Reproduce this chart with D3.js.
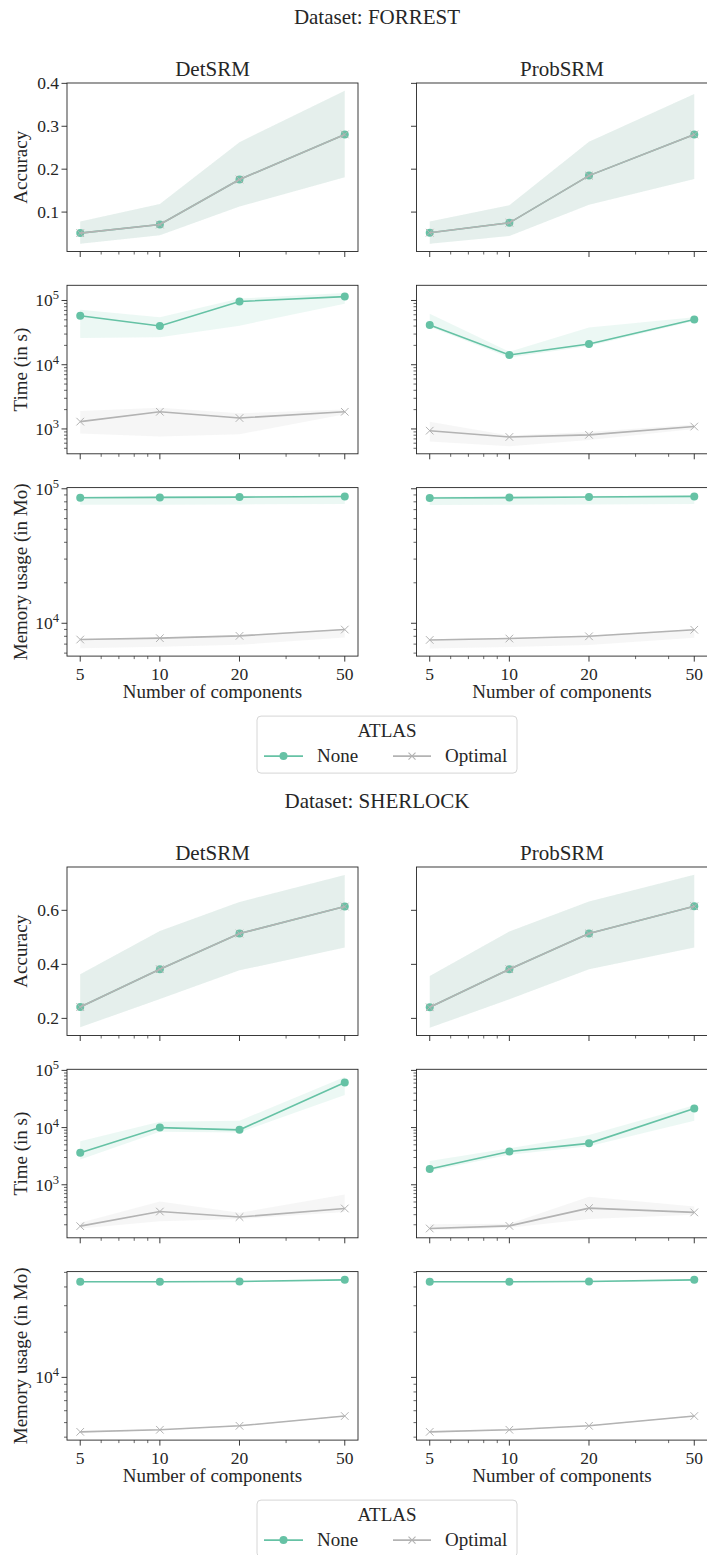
<!DOCTYPE html>
<html>
<head>
<meta charset="utf-8">
<script src="https://cdn.jsdelivr.net/npm/d3@7"></script>
<style>
  body { margin: 0; background: #fff; }
  svg text { font-family: "Liberation Serif", "DejaVu Serif", serif; fill: #262626; }
</style>
</head>
<body>
<svg id="chart"></svg>
<script>
// Two datasets x (accuracy, time, memory) x (DetSRM, ProbSRM), hue = ATLAS
// each row of a series: [mean, lower, upper] at components 5, 10, 20, 50

const components = [5, 10, 20, 50];
const minorComponents = [6, 7, 8, 9, 30, 40];
const methods = ['DetSRM', 'ProbSRM'];
const atlases = ['None', 'Optimal'];

// ── FORREST ──────────────────────────────────────────────────────────────
const forrestAccDetNone    = [[0.051, 0.026, 0.078], [0.071, 0.046, 0.119], [0.176, 0.113, 0.263], [0.281, 0.181, 0.383]];
const forrestAccDetOpt     = [[0.051, 0.026, 0.078], [0.071, 0.046, 0.119], [0.176, 0.113, 0.263], [0.281, 0.181, 0.383]];
const forrestAccProbNone   = [[0.052, 0.026, 0.078], [0.075, 0.044, 0.116], [0.185, 0.117, 0.264], [0.281, 0.177, 0.375]];
const forrestAccProbOpt    = [[0.052, 0.026, 0.078], [0.075, 0.044, 0.116], [0.185, 0.117, 0.264], [0.281, 0.177, 0.375]];

const forrestTimeDetNone   = [[58000, 26000, 71800], [40000, 26700, 55000], [96600, 40600, 107000], [115000, 89000, 131000]];
const forrestTimeDetOpt    = [[1300, 850, 1900], [1850, 760, 2140], [1480, 830, 1750], [1850, 1700, 2000]];
const forrestTimeProbNone  = [[41400, 39000, 62000], [14200, 13000, 15900], [21000, 19500, 38000], [50700, 48000, 55000]];
const forrestTimeProbOpt   = [[940, 640, 1300], [750, 540, 790], [810, 670, 900], [1090, 1000, 1170]];

const forrestMemDetNone    = [[85800, 76000, 87500], [86300, 76200, 88000], [86700, 76500, 88400], [87700, 77000, 89500]];
const forrestMemDetOpt     = [[7570, 6530, 7650], [7750, 6680, 7830], [8060, 6920, 8150], [8980, 7830, 9080]];
const forrestMemProbNone   = [[85500, 75800, 87300], [86000, 76000, 87800], [86800, 76500, 88500], [87800, 77200, 89500]];
const forrestMemProbOpt    = [[7520, 6500, 7600], [7700, 6650, 7800], [8000, 6900, 8100], [8950, 7800, 9050]];

// ── SHERLOCK ─────────────────────────────────────────────────────────────
const sherlockAccDetNone   = [[0.242, 0.167, 0.363], [0.382, 0.272, 0.523], [0.514, 0.378, 0.631], [0.614, 0.462, 0.731]];
const sherlockAccDetOpt    = [[0.242, 0.167, 0.363], [0.382, 0.272, 0.523], [0.514, 0.378, 0.631], [0.614, 0.462, 0.731]];
const sherlockAccProbNone  = [[0.241, 0.165, 0.357], [0.382, 0.271, 0.522], [0.514, 0.382, 0.633], [0.615, 0.462, 0.732]];
const sherlockAccProbOpt   = [[0.241, 0.165, 0.357], [0.382, 0.271, 0.522], [0.514, 0.382, 0.633], [0.615, 0.462, 0.732]];

const sherlockTimeDetNone  = [[3620, 2770, 5750], [10000, 8500, 12700], [9130, 8200, 13200], [61400, 37300, 76800]];
const sherlockTimeDetOpt   = [[189, 172, 216], [340, 230, 510], [273, 252, 323], [385, 335, 676]];
const sherlockTimeProbNone = [[1890, 1740, 2600], [3810, 3340, 4350], [5300, 4700, 7400], [21600, 13200, 24500]];
const sherlockTimeProbOpt  = [[172, 161, 204], [191, 177, 209], [391, 251, 620], [329, 300, 416]];

const sherlockMemDetNone   = [[43300, 42900, 43700], [43300, 42900, 43700], [43500, 43100, 43900], [44600, 44200, 45000]];
const sherlockMemDetOpt    = [[4340, 4300, 4380], [4480, 4440, 4520], [4760, 4720, 4800], [5530, 5480, 5580]];
const sherlockMemProbNone  = [[43300, 42900, 43700], [43300, 42900, 43700], [43500, 43100, 43900], [44600, 44200, 45000]];
const sherlockMemProbOpt   = [[4340, 4300, 4380], [4480, 4440, 4520], [4760, 4720, 4800], [5530, 5480, 5580]];

const forrestAccTicks = [0.1, 0.2, 0.3, 0.4];
const sherlockAccTicks = [0.2, 0.4, 0.6];

// ── Layout ───────────────────────────────────────────────────────────────
const W = 707, H = 1555;
const COL_X = [67, 416.5];
const PANEL_W = 291, PANEL_H = 168.5, ROW_STEP = 202.3;
const INK = '#262626';
const COLOR = { None: '#66c2a5', Optimal: '#b3b3b3' };
const TICK_FS = 17.5, LABEL_FS = 19, TITLE_FS = 21;

const blocks = [
    {
        name: 'FORREST', top: 83,
        rows: [
            { label: 'Accuracy', log: false, ticks: forrestAccTicks,
              DetSRM: { None: forrestAccDetNone, Optimal: forrestAccDetOpt },
              ProbSRM: { None: forrestAccProbNone, Optimal: forrestAccProbOpt } },
            { label: 'Time (in s)', log: true,
              DetSRM: { None: forrestTimeDetNone, Optimal: forrestTimeDetOpt },
              ProbSRM: { None: forrestTimeProbNone, Optimal: forrestTimeProbOpt } },
            { label: 'Memory usage (in Mo)', log: true,
              DetSRM: { None: forrestMemDetNone, Optimal: forrestMemDetOpt },
              ProbSRM: { None: forrestMemProbNone, Optimal: forrestMemProbOpt } },
        ],
    },
    {
        name: 'SHERLOCK', top: 867,
        rows: [
            { label: 'Accuracy', log: false, ticks: sherlockAccTicks,
              DetSRM: { None: sherlockAccDetNone, Optimal: sherlockAccDetOpt },
              ProbSRM: { None: sherlockAccProbNone, Optimal: sherlockAccProbOpt } },
            { label: 'Time (in s)', log: true,
              DetSRM: { None: sherlockTimeDetNone, Optimal: sherlockTimeDetOpt },
              ProbSRM: { None: sherlockTimeProbNone, Optimal: sherlockTimeProbOpt } },
            { label: 'Memory usage (in Mo)', log: true,
              DetSRM: { None: sherlockMemDetNone, Optimal: sherlockMemDetOpt },
              ProbSRM: { None: sherlockMemProbNone, Optimal: sherlockMemProbOpt } },
        ],
    },
];

const svg = d3.select('#chart').attr('width', W).attr('height', H);

// matplotlib-like 5% margins (in log space for log axes)
function yDomain(row) {
    const vals = [];
    methods.forEach(m => atlases.forEach(a => row[m][a].forEach(r => vals.push(r[1], r[2]))));
    const f = row.log ? Math.log10 : v => v;
    const lo = f(d3.min(vals)), hi = f(d3.max(vals));
    const pad = (hi - lo) * 0.05;
    return row.log ? [10 ** (lo - pad), 10 ** (hi + pad)] : [lo - pad, hi + pad];
}

const xExt = [Math.log10(5) - 0.05, Math.log10(50) + 0.05];

function drawPanel(x0, y0, row, method, showYLabels, showXLabels) {
    const g = svg.append('g');
    const x = d3.scaleLog().domain(xExt.map(v => 10 ** v)).range([x0, x0 + PANEL_W]);
    const dom = yDomain(row);
    const y = (row.log ? d3.scaleLog() : d3.scaleLinear()).domain(dom).range([y0 + PANEL_H, y0]);

    // series
    const area = d3.area().x(d => x(d.c)).y0(d => y(d.lo)).y1(d => y(d.hi));
    const line = d3.line().x(d => x(d.c)).y(d => y(d.v));
    atlases.forEach(a => {
        const pts = row[method][a].map((r, i) => ({ c: components[i], v: r[0], lo: r[1], hi: r[2] }));
        const col = COLOR[a];
        g.append('path').datum(pts).attr('d', line)
            .attr('fill', 'none').attr('stroke', col).attr('stroke-width', 1.6);
        if (a === 'None') {
            g.selectAll(null).data(pts).join('circle')
                .attr('cx', d => x(d.c)).attr('cy', d => y(d.v)).attr('r', 4)
                .attr('fill', col);
        } else {
            const s = 3.8;
            g.selectAll(null).data(pts).join('path')
                .attr('d', d => {
                    const cx = x(d.c), cy = y(d.v);
                    return `M${cx - s},${cy - s}L${cx + s},${cy + s}M${cx - s},${cy + s}L${cx + s},${cy - s}`;
                })
                .attr('stroke', col).attr('stroke-width', 1).attr('fill', 'none');
        }
        g.append('path').datum(pts).attr('d', area)
            .attr('fill', col).attr('fill-opacity', 0.12);
    });

    // frame
    g.append('rect').attr('x', x0).attr('y', y0).attr('width', PANEL_W).attr('height', PANEL_H)
        .attr('fill', 'none').attr('stroke', INK).attr('stroke-width', 0.9);

    // x ticks
    const xb = y0 + PANEL_H;
    g.selectAll(null).data(components).join('line')
        .attr('x1', d => x(d)).attr('x2', d => x(d)).attr('y1', xb).attr('y2', xb + 5.5)
        .attr('stroke', INK).attr('stroke-width', 0.9);
    g.selectAll(null).data(minorComponents).join('line')
        .attr('x1', d => x(d)).attr('x2', d => x(d)).attr('y1', xb).attr('y2', xb + 3)
        .attr('stroke', INK).attr('stroke-width', 0.7);
    if (showXLabels) {
        g.selectAll(null).data(components).join('text')
            .attr('x', d => x(d)).attr('y', xb + 24)
            .attr('text-anchor', 'middle')
            .attr('font-size', TICK_FS).text(d => d);
        g.append('text').attr('x', x0 + PANEL_W / 2).attr('y', xb + 42)
            .attr('text-anchor', 'middle').attr('font-size', LABEL_FS)
            .text('Number of components');
    }

    // y ticks
    let major, minor = [];
    if (row.log) {
        const e0 = Math.floor(Math.log10(dom[0])), e1 = Math.ceil(Math.log10(dom[1]));
        major = d3.range(e0, e1 + 1).map(e => 10 ** e).filter(v => v >= dom[0] && v <= dom[1]);
        d3.range(e0, e1 + 1).forEach(e => {
            for (let k = 2; k <= 9; k++) {
                const v = k * 10 ** e;
                if (v >= dom[0] && v <= dom[1]) minor.push(v);
            }
        });
    } else {
        major = row.ticks;
    }
    g.selectAll(null).data(major).join('line')
        .attr('x1', x0 - 5.5).attr('x2', x0).attr('y1', d => y(d)).attr('y2', d => y(d))
        .attr('stroke', INK).attr('stroke-width', 0.9);
    g.selectAll(null).data(minor).join('line')
        .attr('x1', x0 - 3).attr('x2', x0).attr('y1', d => y(d)).attr('y2', d => y(d))
        .attr('stroke', INK).attr('stroke-width', 0.7);

    if (showYLabels) {
        const lbl = g.selectAll(null).data(major).join('text')
            .attr('x', x0 - 8).attr('y', d => y(d) + 6)
            .attr('text-anchor', 'end')
            .attr('font-size', TICK_FS);
        if (row.log) {
            lbl.each(function(d) {
                const t = d3.select(this);
                t.append('tspan').text('10');
                t.append('tspan').attr('dy', -7).attr('font-size', 12.5)
                    .text(Math.round(Math.log10(d)));
            });
        } else {
            lbl.text(d => d.toFixed(1));
        }
        g.append('text')
            .attr('transform', `translate(27, ${y0 + PANEL_H / 2}) rotate(-90)`)
            .attr('text-anchor', 'middle')
            .attr('font-size', LABEL_FS).text(row.label);
    }
}

function drawLegend(top) {
    const g = svg.append('g');
    g.append('rect').attr('x', 257).attr('y', top).attr('width', 260).attr('height', 57)
        .attr('rx', 4).attr('fill', '#fff').attr('stroke', '#d6d6d6').attr('stroke-width', 1);
    g.append('text').attr('x', 387).attr('y', top + 21)
        .attr('text-anchor', 'middle').attr('font-size', LABEL_FS).text('ATLAS');
    const items = [
        { a: 'None', x1: 264, x2: 303, tx: 317 },
        { a: 'Optimal', x1: 393, x2: 431, tx: 445 },
    ];
    const cy = top + 40;
    items.forEach(it => {
        const col = COLOR[it.a], cx = (it.x1 + it.x2) / 2;
        g.append('line').attr('x1', it.x1).attr('x2', it.x2).attr('y1', cy).attr('y2', cy)
            .attr('stroke', col).attr('stroke-width', 1.6);
        if (it.a === 'None') {
            g.append('circle').attr('cx', cx).attr('cy', cy).attr('r', 4).attr('fill', col);
        } else {
            const s = 3.5;
            g.append('path')
                .attr('d', `M${cx - s},${cy - s}L${cx + s},${cy + s}M${cx - s},${cy + s}L${cx + s},${cy - s}`)
                .attr('stroke', col).attr('stroke-width', 1.1);
        }
        g.append('text').attr('x', it.tx).attr('y', cy + 6)
            .attr('font-size', LABEL_FS).text(it.a);
    });
}

blocks.forEach(b => {
    svg.append('text').attr('x', 377).attr('y', b.top - 59)
        .attr('text-anchor', 'middle').attr('font-size', TITLE_FS)
        .text(`Dataset: ${b.name}`);
    methods.forEach((m, ci) => {
        svg.append('text').attr('x', COL_X[ci] + PANEL_W / 2).attr('y', b.top - 7)
            .attr('text-anchor', 'middle').attr('font-size', TITLE_FS).text(m);
    });
    b.rows.forEach((row, ri) => {
        const y0 = b.top + ri * ROW_STEP;
        methods.forEach((m, ci) => {
            drawPanel(COL_X[ci], y0, row, m, ci === 0, ri === b.rows.length - 1);
        });
    });
    drawLegend(b.top + 2 * ROW_STEP + PANEL_H + 60);
});
</script>
</body>
</html>
